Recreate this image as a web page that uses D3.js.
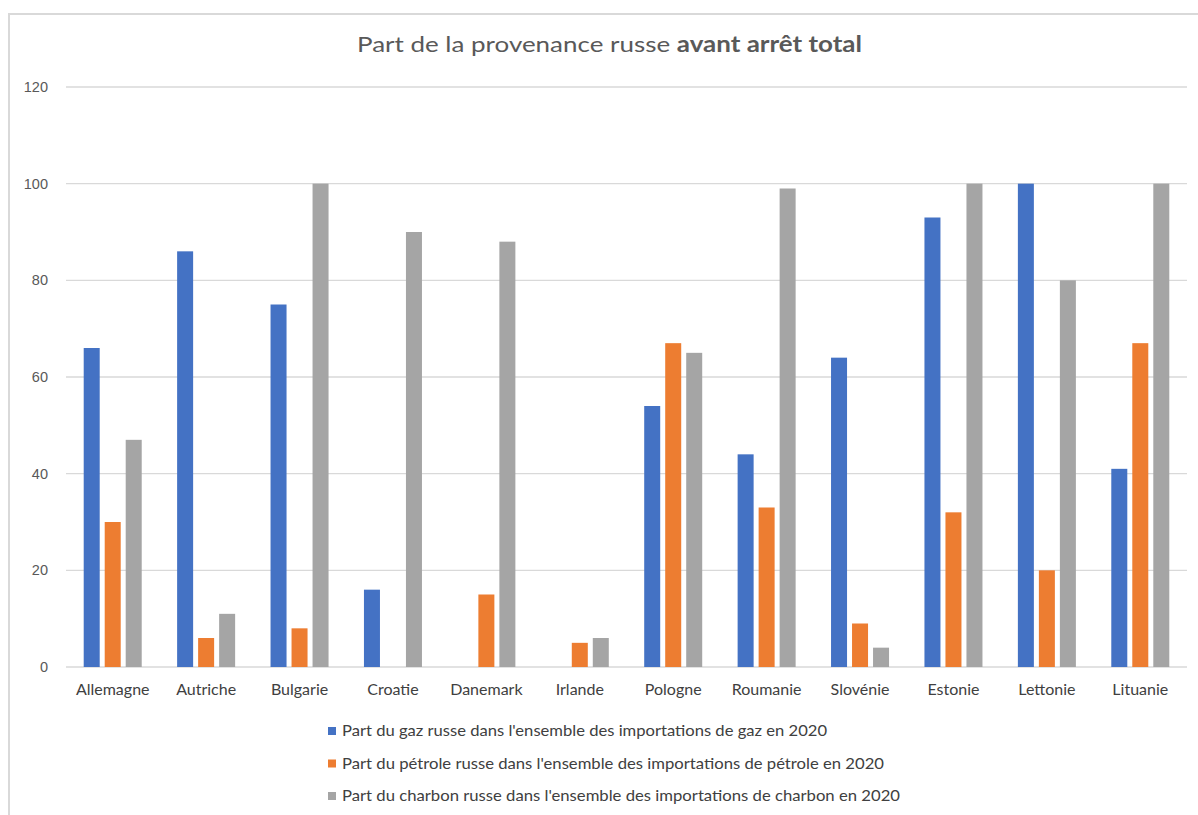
<!DOCTYPE html>
<html><head><meta charset="utf-8">
<script src="https://cdn.jsdelivr.net/npm/d3@7"></script>
<style>body{margin:0;background:#fff;} svg{display:block;}</style>
</head><body><svg id="c" width="1198" height="815"></svg>
<script>
const categories = ["Allemagne","Autriche","Bulgarie","Croatie","Danemark","Irlande","Pologne","Roumanie","Slovénie","Estonie","Lettonie","Lituanie"];
const gaz      = [66, 86, 75, 16, 0, 0, 54, 44, 64, 93, 100, 41];
const petrole  = [30, 6, 8, 0, 15, 5, 67, 33, 9, 32, 20, 67];
const charbon  = [47, 11, 100, 90, 88, 6, 65, 99, 4, 100, 80, 100];
const seriesNames = [
  "Part du gaz russe dans l'ensemble des importations de gaz en 2020",
  "Part du pétrole russe dans l'ensemble des importations de pétrole en 2020",
  "Part du charbon russe dans l'ensemble des importations de charbon en 2020"
];
const yTicks = [0, 20, 40, 60, 80, 100, 120];
const colors = ["#4472C4", "#ED7D31", "#A5A5A5"];
const seriesValues = [gaz, petrole, charbon];

const svg = d3.select("#c");
const font = "Lato, 'Open Sans', sans-serif";

// outer border (partially visible)
svg.append("path").attr("d","M9,815 L9,14 L1198,14").attr("fill","none").attr("stroke","#d9d9d9").attr("stroke-width",2);

const x0 = d3.scaleBand().domain(categories).range([66, 1187]).paddingInner(0).paddingOuter(0);
const y = d3.scaleLinear().domain([0, 120]).range([667, 87]);
const x1 = d3.scaleBand().domain([0,1,2]).range([0, x0.bandwidth()]).paddingOuter(0.843).paddingInner(0.238);

// gridlines
svg.append("g").selectAll("line").data(yTicks).join("line")
  .attr("x1", 66).attr("x2", 1187)
  .attr("y1", d => y(d)).attr("y2", d => y(d))
  .attr("stroke", "#d9d9d9").attr("stroke-width", 1.3);

// y axis labels
const yAxis = d3.axisLeft(y).tickValues(yTicks).tickSize(0).tickPadding(0);
const ga = svg.append("g").attr("transform","translate(48,0)").call(yAxis);
ga.select(".domain").remove();
ga.selectAll("text").attr("font-family","'Liberation Sans', Arial, sans-serif").attr("font-size",14.5).attr("fill","#595959");

// bars
const groups = svg.append("g").selectAll("g").data(categories).join("g")
  .attr("transform", d => `translate(${x0(d)},0)`);
groups.selectAll("rect").data((d,i) => seriesValues.map((s,k) => ({k, v: s[i]}))).join("rect")
  .attr("x", d => x1(d.k)).attr("width", x1.bandwidth())
  .attr("y", d => y(d.v)).attr("height", d => y(0) - y(d.v))
  .attr("fill", d => colors[d.k]);

// category labels
const xAxis = d3.axisBottom(x0).tickSize(0).tickPadding(0);
const gx = svg.append("g").attr("transform","translate(0,684)").call(xAxis);
gx.select(".domain").remove();
gx.selectAll("text").attr("font-family",font).attr("font-size",16).attr("fill","#404040").attr("dy","0.7em");

// title
const t = svg.append("text").attr("x",609.5).attr("y",52).attr("text-anchor","middle")
  .attr("font-family",font).attr("font-size",22).attr("fill","#595959");
t.append("tspan").text("Part de la provenance russe ");
t.append("tspan").attr("font-weight","bold").text("avant arrêt total");
t.attr("textLength",505).attr("lengthAdjust","spacingAndGlyphs");

// legend
const legW = [485, 542, 558];
const lg = svg.append("g").selectAll("g").data(seriesNames).join("g")
  .attr("transform",(d,i)=>`translate(328,${731 + i*32.5})`);
lg.append("rect").attr("x",0).attr("y",-4).attr("width",8).attr("height",8).attr("fill",(d,i)=>colors[i]);
lg.append("text").attr("x",14).attr("y",0).attr("dy","0.35em")
  .attr("font-family",font).attr("font-size",15).attr("fill","#404040")
  .attr("textLength",(d,i)=>legW[i]).attr("lengthAdjust","spacingAndGlyphs")
  .text(d=>d);
</script></body></html>
